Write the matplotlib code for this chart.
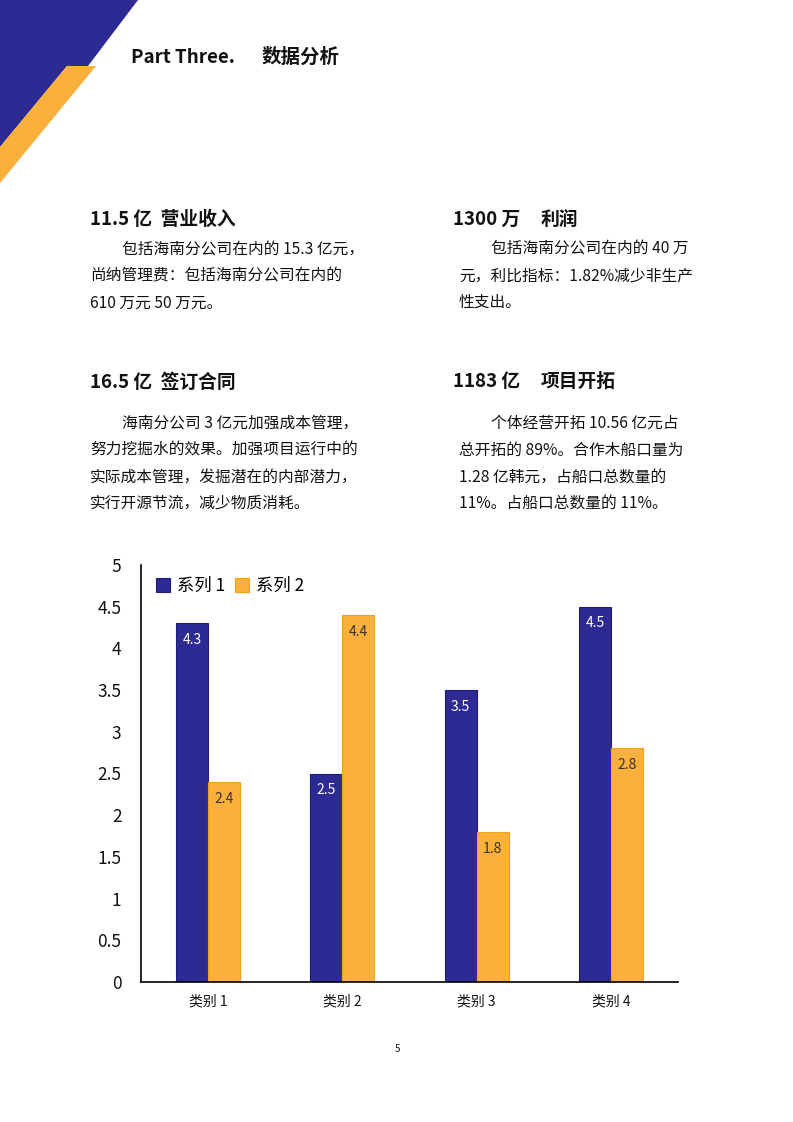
import matplotlib
matplotlib.use("Agg")
import matplotlib.pyplot as plt
from matplotlib.patches import Polygon
import numpy as np

plt.rcParams['font.family'] = ['Noto Sans CJK SC', 'DejaVu Sans']

categories = ['类别 1', '类别 2', '类别 3', '类别 4']
series1 = [4.3, 2.5, 3.5, 4.5]
series2 = [2.4, 4.4, 1.8, 2.8]
series_names = ['系列 1', '系列 2']
yticks = [0, 0.5, 1, 1.5, 2, 2.5, 3, 3.5, 4, 4.5, 5]
ytick_labels = ['0', '0.5', '1', '1.5', '2', '2.5', '3', '3.5', '4', '4.5', '5']

BLUE = '#2E2A94'
BLUE_EDGE = '#1F1C80'
ORANGE = '#FBB03B'
ORANGE_EDGE = '#F5A01A'

W, H = 793, 1122
fig = plt.figure(figsize=(W / 100, H / 100), dpi=100)

# overlay for decorations and text (pixel coordinates)
ov = fig.add_axes([0, 0, 1, 1])
ov.set_xlim(0, W)
ov.set_ylim(H, 0)
ov.axis('off')

ov.add_patch(Polygon([(0, 0), (138, 0), (88, 66), (67, 66), (0, 147)], closed=True,
                     facecolor=BLUE, edgecolor='none'))
ov.add_patch(Polygon([(67, 66), (96, 66), (0, 183), (0, 147)], closed=True,
                     facecolor=ORANGE, edgecolor='none'))

tc = '#111111'
ov.text(131, 57, 'Part Three.', fontsize=13.5, fontweight='bold', va='center', ha='left', color=tc)
ov.text(262, 57, '数据分析', fontsize=14, fontweight='bold', va='center', ha='left', color=tc)

head_fs = 13.5
body_fs = 11.3

# headings
ov.text(90, 219, '11.5 亿  营业收入', fontsize=head_fs, fontweight='bold', va='center', ha='left', color=tc)
ov.text(453, 219, '1300 万', fontsize=head_fs, fontweight='bold', va='center', ha='left', color=tc)
ov.text(541, 219, '利润', fontsize=head_fs, fontweight='bold', va='center', ha='left', color=tc)
ov.text(90, 382, '16.5 亿  签订合同', fontsize=head_fs, fontweight='bold', va='center', ha='left', color=tc)
ov.text(453, 381, '1183 亿', fontsize=head_fs, fontweight='bold', va='center', ha='left', color=tc)
ov.text(541, 381, '项目开拓', fontsize=head_fs, fontweight='bold', va='center', ha='left', color=tc)

# body text
blocks = [
    (90, [250, 276, 303], ['包括海南分公司在内的 15.3 亿元，', '尚纳管理费：包括海南分公司在内的', '610 万元 50 万元。']),
    (459, [249, 276, 302], ['包括海南分公司在内的 40 万', '元，利比指标：1.82%减少非生产', '性支出。']),
    (90, [423, 450, 477, 503], ['海南分公司 3 亿元加强成本管理，', '努力挖掘水的效果。加强项目运行中的', '实际成本管理，发掘潜在的内部潜力，', '实行开源节流，减少物质消耗。']),
    (459, [423, 450, 477, 503], ['个体经营开拓 10.56 亿元占', '总开拓的 89%。合作木船口量为', '1.28 亿韩元，占船口总数量的', '11%。占船口总数量的 11%。']),
]
for x0, ys, lines in blocks:
    for i, (y, line) in enumerate(zip(ys, lines)):
        x = x0 + 32 if i == 0 else x0
        ov.text(x, y, line, fontsize=body_fs, va='center', ha='left', color=tc)

ov.text(397, 1049, '5', fontsize=7, va='center', ha='center', color=tc)

# chart
left, right, top, bottom = 141, 678, 565, 982
ax = fig.add_axes([left / W, 1 - bottom / H, (right - left) / W, (bottom - top) / H])
x = np.arange(len(categories))
bw = 0.238
b1 = ax.bar(x - bw / 2, series1, bw, color=BLUE, edgecolor=BLUE_EDGE, linewidth=0.8, label=series_names[0])
b2 = ax.bar(x + bw / 2, series2, bw, color=ORANGE, edgecolor=ORANGE_EDGE, linewidth=0.8, label=series_names[1])

for rect, v in zip(b1, series1):
    ax.annotate(f'{v}', (rect.get_x() + rect.get_width() / 2, v), xytext=(0, -7),
                textcoords='offset points', ha='center', va='top', fontsize=10, color='white')
for rect, v in zip(b2, series2):
    ax.annotate(f'{v}', (rect.get_x() + rect.get_width() / 2, v), xytext=(0, -7),
                textcoords='offset points', ha='center', va='top', fontsize=10, color='#333333')

ax.set_xlim(-0.5, len(categories) - 0.5)
ax.set_ylim(0, 5)
ax.set_yticks(yticks)
ax.set_yticklabels(ytick_labels, fontsize=12.5)
ax.set_xticks(x)
ax.set_xticklabels(categories, fontsize=10)
ax.tick_params(axis='both', length=0, colors='#111111')
ax.tick_params(axis='y', pad=14)
ax.tick_params(axis='x', pad=9)
for s in ['top', 'right']:
    ax.spines[s].set_visible(False)
for s in ['left', 'bottom']:
    ax.spines[s].set_color('#000000')
    ax.spines[s].set_linewidth(1.2)

ax.legend(loc='upper left', bbox_to_anchor=(0.005, 1.0), ncol=2, frameon=False,
          fontsize=12.5, handlelength=0.8, handleheight=0.8, handletextpad=0.4,
          columnspacing=0.6, borderaxespad=0.3)

fig.savefig('out.png', dpi=100)
